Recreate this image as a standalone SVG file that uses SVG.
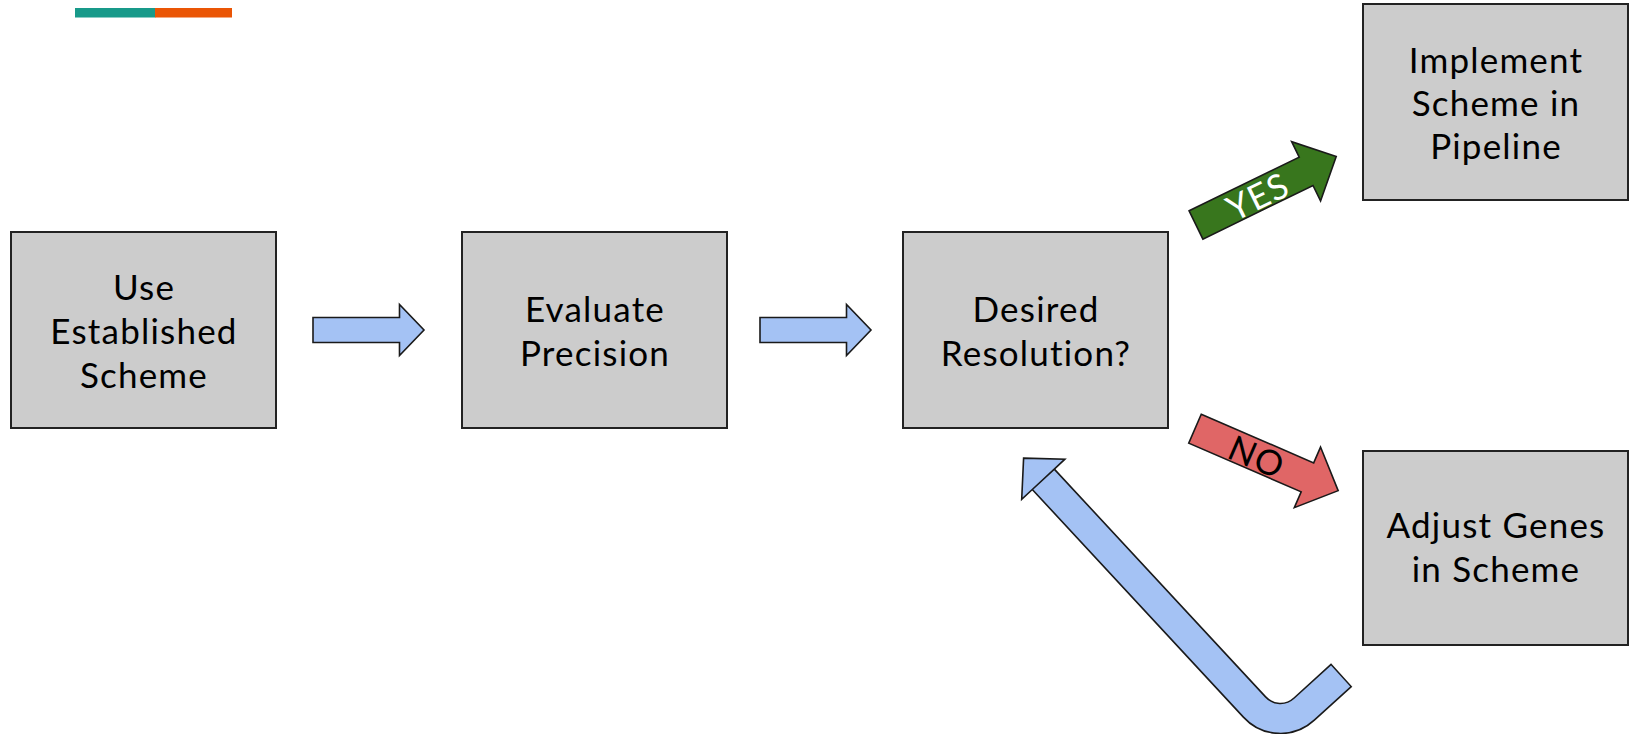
<svg xmlns="http://www.w3.org/2000/svg" width="1629" height="734" viewBox="0 0 1629 734">
  <style>
    .box { fill: #cccccc; stroke: #222222; stroke-width: 2; }
    .lbl { font-family: Lato, "Liberation Sans", sans-serif; font-size: 35px; letter-spacing: 1.2px; fill: #000000; text-anchor: middle; }
    .flow { fill: #a4c2f4; stroke: #1a1a1a; stroke-width: 1.6; stroke-linejoin: miter; }
    .yes { fill: #38761d; stroke: #1a1a1a; stroke-width: 1.6; }
    .no { fill: #e06666; stroke: #1a1a1a; stroke-width: 1.6; }
    .tag { font-family: Lato, "Liberation Sans", sans-serif; font-size: 35px; letter-spacing: 1.2px; text-anchor: middle; dominant-baseline: central; }
  </style>
  <defs>
    <!-- straight block arrow, tail centre at origin -->
    <polygon id="blockArrow" points="0,-12.5 86.5,-12.5 86.5,-25.5 111,0 86.5,25.5 86.5,12.5 0,12.5"/>
    <!-- larger decision arrow, tail centre at origin -->
    <polygon id="decisionArrow" points="0,-15.75 122.5,-15.75 122.5,-33 156,0 122.5,33 122.5,15.75 0,15.75"/>
  </defs>

  <rect width="1629" height="734" fill="#ffffff"/>

  <!-- accent bar -->
  <rect x="75" y="8" width="80.5" height="9.5" fill="#189a8a"/>
  <rect x="155" y="8" width="77" height="9.5" fill="#ea5505"/>

  <g id="connectors">
    <use href="#blockArrow" class="flow" transform="translate(313,330)"/>
    <use href="#blockArrow" class="flow" transform="translate(760,330)"/>

    <g id="yes-arrow" transform="translate(1196,225) rotate(-26)">
      <use href="#decisionArrow" class="yes"/>
      <text class="tag" x="68" y="0" fill="#ffffff">YES</text>
    </g>

    <g id="no-arrow" transform="translate(1195,428.7) rotate(23.4)">
      <use href="#decisionArrow" class="no"/>
      <text class="tag" x="68" y="0" fill="#000000">NO</text>
    </g>

    <!-- bent return arrow: outline, fill, then head -->
    <g id="return-arrow">
      <path d="M 1341.7,675 L 1304.2,709.1 A 35 35 0 0 1 1254.5,707 L 1043.3,479.3" fill="none" stroke="#1a1a1a" stroke-width="31.6" stroke-linejoin="round"/>
      <path d="M 1340.6,676 L 1304.2,709.1 A 35 35 0 0 1 1254.5,707 L 1043.3,479.3" fill="none" stroke="#a4c2f4" stroke-width="28.4" stroke-linejoin="round"/>
      <polygon class="flow" points="1023.6,458.1 1064.9,459.2 1054.3,469.1 1054.3,469.1 1032.3,489.5 1021.7,499.4"/>
    </g>
  </g>

  <g id="node-use-established">
    <rect class="box" x="11" y="232" width="265" height="196"/>
    <text class="lbl" x="144" y="299.5">Use</text>
    <text class="lbl" x="144" y="343.5">Established</text>
    <text class="lbl" x="144" y="388">Scheme</text>
  </g>

  <g id="node-evaluate">
    <rect class="box" x="462" y="232" width="265" height="196"/>
    <text class="lbl" x="595" y="321.5">Evaluate</text>
    <text class="lbl" x="595" y="366">Precision</text>
  </g>

  <g id="node-desired">
    <rect class="box" x="903" y="232" width="265" height="196"/>
    <text class="lbl" x="1036" y="321.5">Desired</text>
    <text class="lbl" x="1036" y="366">Resolution?</text>
  </g>

  <g id="node-implement">
    <rect class="box" x="1363" y="4" width="265" height="196"/>
    <text class="lbl" x="1496" y="72.5">Implement</text>
    <text class="lbl" x="1496" y="116">Scheme in</text>
    <text class="lbl" x="1496" y="159">Pipeline</text>
  </g>

  <g id="node-adjust">
    <rect class="box" x="1363" y="451" width="265" height="194"/>
    <text class="lbl" x="1496" y="537.5">Adjust Genes</text>
    <text class="lbl" x="1496" y="582">in Scheme</text>
  </g>
</svg>
